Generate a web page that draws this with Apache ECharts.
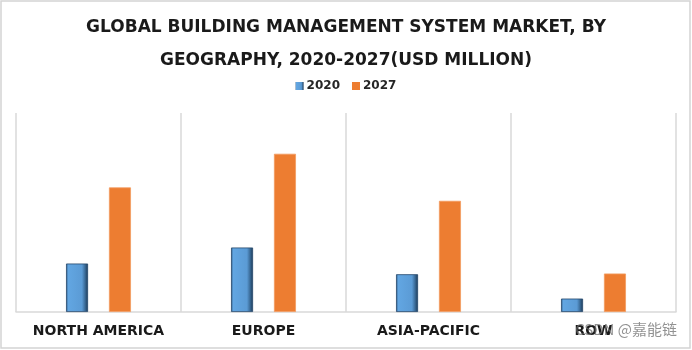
<!DOCTYPE html>
<html>
<head>
<meta charset="utf-8">
<script src="https://cdn.jsdelivr.net/npm/echarts@6/dist/echarts.min.js"></script>
<style>
html,body{margin:0;padding:0;background:#fff;}
#chart{width:692px;height:350px;}
</style>
</head>
<body>
<div id="chart"></div>
<script>
// Data (USD million)
var categories = ['NORTH AMERICA', 'EUROPE', 'ASIA-PACIFIC', 'ROW'];
var seriesNames = ['2020', '2027'];
var values2020 = [2420, 3220, 1885, 670];
var values2027 = [6220, 7900, 5550, 1920];
var titleLines = ['GLOBAL BUILDING MANAGEMENT SYSTEM MARKET, BY', 'GEOGRAPHY, 2020-2027(USD MILLION)'];
var watermark = 'CSDN @嘉能链';

var chart = echarts.init(document.getElementById('chart'), null, {renderer: 'canvas'});
var blueGrad = new echarts.graphic.LinearGradient(0, 0, 1, 0, [
  {offset: 0, color: '#2c5a85'},
  {offset: 0.1, color: '#62a6e2'},
  {offset: 0.72, color: '#5b9bd5'},
  {offset: 0.86, color: '#3b6c99'},
  {offset: 1, color: '#1b3753'}
]);
var option = {
  backgroundColor: '#fff',
  animation: false,
  title: {
    text: titleLines.join('\n'),
    left: 'center',
    top: 6,
    textStyle: {
      fontFamily: 'DejaVu Sans',
      fontWeight: 'bold',
      fontSize: 17,
      lineHeight: 33,
      color: '#1a1a1a'
    }
  },
  legend: {
    data: seriesNames,
    left: 'center',
    top: 75,
    itemWidth: 8,
    itemHeight: 8,
    itemGap: 12,
    icon: 'rect',
    itemStyle: {borderWidth: 0},
    textStyle: {fontFamily: 'DejaVu Sans', fontWeight: 'bold', fontSize: 12, color: '#262626', padding: [0, 0, 0, -2]}
  },
  grid: {left: 16, right: 16, top: 113, bottom: 38, containLabel: false},
  xAxis: {
    type: 'category',
    data: categories,
    axisLine: {show: true, lineStyle: {color: '#d9d9d9', width: 1.5}},
    axisTick: {show: false, interval: 0},
    splitLine: {show: true, interval: 0, lineStyle: {color: '#d9d9d9', width: 1.5}},
    axisLabel: {
      interval: 0,
      hideOverlap: false,
      margin: 12,
      fontFamily: 'DejaVu Sans',
      fontWeight: 'bold',
      fontSize: 14,
      color: '#1a1a1a'
    }
  },
  yAxis: {
    type: 'value',
    min: 0,
    max: 9935,
    show: false,
    splitLine: {show: false}
  },
  series: [
    {
      name: seriesNames[0],
      type: 'bar',
      data: values2020,
      barWidth: 22,
      barGap: '95%',
      itemStyle: {color: blueGrad, borderColor: '#24476b', borderWidth: 0.8}
    },
    {
      name: seriesNames[1],
      type: 'bar',
      data: values2027,
      barWidth: 22,
      itemStyle: {color: '#ED7D31', borderColor: '#f39a5f', borderWidth: 0.8}
    }
  ],
  graphic: [
    {
      type: 'rect',
      shape: {x: 1, y: 1, width: 689, height: 347},
      style: {fill: 'none', stroke: '#d4d4d4', lineWidth: 1.5},
      silent: true
    },
    {
      type: 'text',
      right: 15,
      top: 322,
      z: 100,
      style: {
        text: watermark,
        fontFamily: 'Noto Sans CJK SC',
        fontSize: 15,
        fill: 'rgba(110,110,110,0.75)'
      },
      silent: true
    }
  ]
};
chart.setOption(option);
</script>
</body>
</html>
